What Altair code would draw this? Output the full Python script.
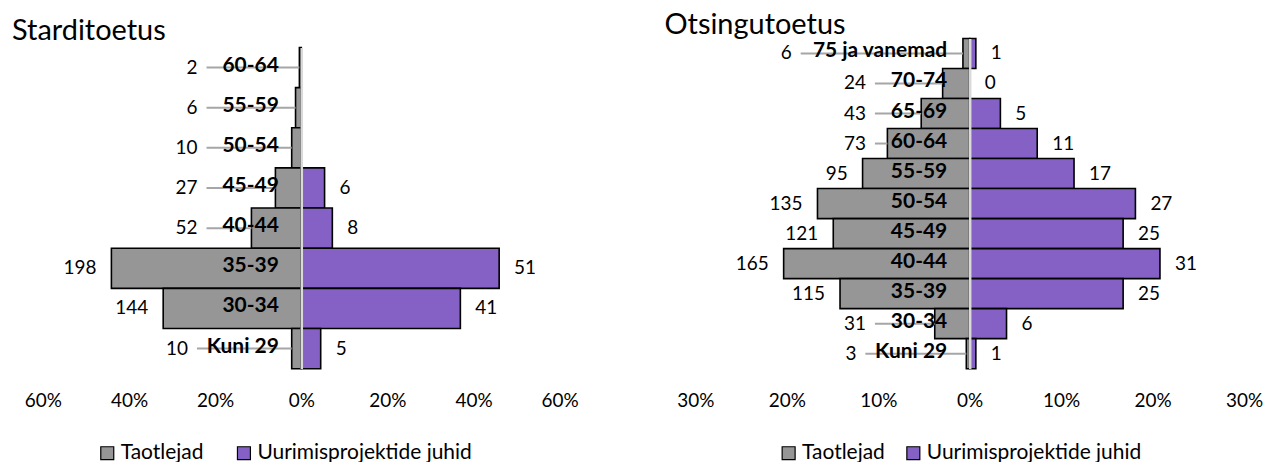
import altair as alt
import pandas as pd

FONT = "Lato"
GROUPS = ["Taotlejad", "Uurimisprojektide juhid"]
COLORS = ["#969696", "#8561c5"]

# Starditoetus
start_ages = ["60-64", "55-59", "50-54", "45-49", "40-44", "35-39", "30-34", "Kuni 29"]
start_taotlejad = [2, 6, 10, 27, 52, 198, 144, 10]
start_juhid = [None, None, None, 6, 8, 51, 41, 5]

# Otsingutoetus
ots_ages = ["75 ja vanemad", "70-74", "65-69", "60-64", "55-59", "50-54",
            "45-49", "40-44", "35-39", "30-34", "Kuni 29"]
ots_taotlejad = [6, 24, 43, 73, 95, 135, 121, 165, 115, 31, 3]
ots_juhid = [1, 0, 5, 11, 17, 27, 25, 31, 25, 6, 1]

HEIGHT = 331


def panel(ages, tao, juh, title, xmax, step, width, band_top, title_dy,
          legend_x, legend_gap):
    ppu = width / (2 * xmax)  # pixels per percent
    tot_t = sum(tao)
    tot_j = sum(v for v in juh if v is not None)
    gap = 15
    rows, leaders = [], []
    for a, t, j in zip(ages, tao, juh):
        p = t / tot_t * 100
        bar_px = p * ppu
        min_px = max(104, 38 + 10.8 * len(a))
        lab_px = max(bar_px + gap, min_px)
        rows.append(dict(age=a, group=GROUPS[0], count=t, value=-p, lab=-lab_px / ppu))
        if lab_px > bar_px + gap + 0.5:
            leaders.append(dict(age=a, x1=-(lab_px - 9) / ppu, x2=-p))
        if j is not None:
            q = j / tot_j * 100
            rows.append(dict(age=a, group=GROUPS[1], count=j, value=q, lab=q + gap / ppu))
    df = pd.DataFrame(rows)
    ld = pd.DataFrame(leaders)

    xscale = alt.Scale(domain=[-xmax, xmax], nice=False, zero=False)
    yscale = alt.Scale(domain=ages, range=[band_top, HEIGHT], paddingInner=0, paddingOuter=0)

    xaxis = alt.Axis(values=list(range(-xmax, xmax + 1, step)),
                     labelExpr="abs(datum.value) + '%'", grid=False, domain=False,
                     ticks=False, tickSize=0, labelPadding=23, labelFontSize=19,
                     labelFont=FONT, labelColor="black", labelFlush=False, title=None)
    yaxis = alt.Axis(offset=-width / 2, orient="left", domainColor="#d9d9d9",
                     domainWidth=2.5, ticks=False, tickSize=0, labelPadding=23,
                     labelFont=FONT, labelFontWeight="bold", labelFontSize=21,
                     labelAlign="right", labelBaseline="middle", labelColor="black",
                     labelOffset=-2, labelLimit=300, zindex=1, grid=False, title=None)

    y = alt.Y("age:N", sort=ages, scale=yscale, axis=yaxis, title=None)
    y2 = alt.Y("age:N", sort=ages, title=None)

    bars = alt.Chart(df).mark_bar(stroke="black", strokeWidth=1.6).encode(
        y=y,
        x=alt.X("value:Q", scale=xscale, axis=xaxis, title=None),
        x2=alt.datum(0),
        color=alt.Color("group:N", scale=alt.Scale(domain=GROUPS, range=COLORS),
                        legend=alt.Legend(title=None, orient="none", legendX=legend_x,
                                          legendY=405, direction="horizontal", columns=2,
                                          symbolType="square", symbolSize=169,
                                          symbolStrokeColor="black", symbolStrokeWidth=1.2,
                                          labelFont=FONT, labelFontSize=21, labelLimit=400,
                                          labelColor="black", columnPadding=legend_gap,
                                          labelOffset=3)),
    )
    leader = alt.Chart(ld).mark_rule(color="#a6a6a6", strokeWidth=2).encode(
        y=y2, x=alt.X("x1:Q", title=None), x2="x2:Q")
    lab_t = alt.Chart(df).transform_filter(alt.datum.group == GROUPS[0]).mark_text(
        align="right", baseline="middle", font=FONT, fontSize=19, color="black").encode(
        y=y2, x=alt.X("lab:Q", title=None), text="count:Q")
    lab_j = alt.Chart(df).transform_filter(alt.datum.group == GROUPS[1]).mark_text(
        align="left", baseline="middle", font=FONT, fontSize=19, color="black").encode(
        y=y2, x=alt.X("lab:Q", title=None), text="count:Q")

    return alt.layer(bars, leader, lab_t, lab_j).properties(
        width=width, height=HEIGHT,
        title=alt.TitleParams(title, anchor="start", frame="group", fontSize=29,
                              font=FONT, fontWeight="normal", color="black",
                              baseline="alphabetic", offset=0, dx=-31, dy=title_dy),
    )


left = panel(start_ages, start_taotlejad, start_juhid, "Starditoetus", 60, 20, 518,
             9, 31, 54, 30)
right = panel(ots_ages, ots_taotlejad, ots_juhid, "Otsingutoetus", 30, 10, 550,
              0, 25, 83, 18)

chart = alt.hconcat(left, right, spacing=136, bounds="flush").resolve_scale(
    color="independent").resolve_legend(color="independent").properties(
    padding={"left": 4, "top": 2, "right": 0, "bottom": 0}
).configure_view(stroke=None)

chart.save("out.html", embed_options={"renderer": "svg", "actions": False})
